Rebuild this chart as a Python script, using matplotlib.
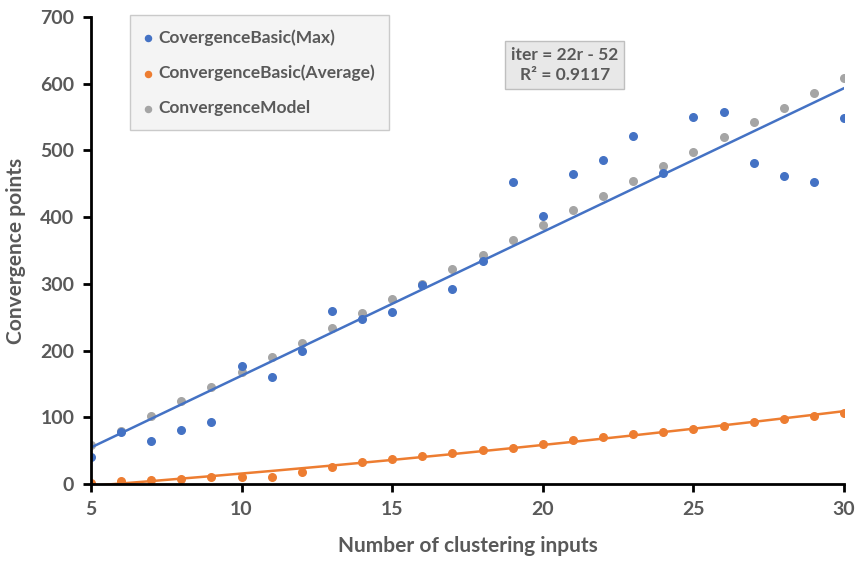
import numpy as np
import matplotlib.pyplot as plt

inputs = list(range(5, 31))
basic_max = [40, 78, 64, 81, 93, 177, 160, 200, 260, 248, 258, 298, 292, 334, 453,
             401, 464, 485, 522, 466, 550, 558, 481, 461, 452, 548]
basic_avg = [2, 5, 6, 8, 10, 10, 11, 18, 26, 33, 37.5, 42, 46.5, 51.5, 54, 60.5,
             65.5, 71, 75, 78.5, 82.5, 87.5, 93, 97.5, 102.5, 107]
model = [58, 80, 102, 124, 146, 168, 190, 212, 234, 256, 278, 300, 322, 344, 366,
         388, 410, 432, 454, 476, 498, 520, 542, 564, 586, 608]

plt.rcParams['font.family'] = ['Lato', 'DejaVu Sans']
plt.rcParams['font.weight'] = 'bold'
plt.rcParams['axes.labelweight'] = 'bold'
txt = '#595959'

fig = plt.figure(figsize=(8.58, 5.63), dpi=100)
ax = fig.add_axes([0.106, 0.1403, 0.8777, 0.8295])

x = np.array(inputs)
ax.scatter(x, basic_max, s=30, color='#4472C4', zorder=3, label='CovergenceBasic(Max)')
ax.scatter(x, basic_avg, s=30, color='#ED7D31', zorder=3, label='ConvergenceBasic(Average)')
ax.scatter(x, model, s=30, color='#A5A5A5', zorder=2, label='ConvergenceModel')

# trend lines
k, b = np.polyfit(x, basic_max, 1)
xs = np.linspace(5, 30, 200)
ax.plot(xs, k * xs + b, color='#4472C4', lw=1.8, zorder=4)
c = np.polyfit(x, basic_avg, 2)
ax.plot(xs, np.polyval(c, xs), color='#ED7D31', lw=1.8, zorder=4)

ax.set_xlim(5, 30)
ax.set_ylim(0, 700)
ax.set_xticks([5, 10, 15, 20, 25, 30])
ax.set_yticks(range(0, 701, 100))
for s in ['top', 'right']:
    ax.spines[s].set_visible(False)
for s in ['left', 'bottom']:
    ax.spines[s].set_linewidth(2)
    ax.spines[s].set_zorder(5)
ax.tick_params(width=2, length=6, labelsize=14, labelcolor=txt, pad=6)
ax.set_xlabel('Number of clustering inputs', fontsize=15, fontweight='bold',
              color=txt, labelpad=13)
ax.set_ylabel('Convergence points', fontsize=15, fontweight='bold',
              color=txt, labelpad=10)

leg = ax.legend(loc='upper left', bbox_to_anchor=(0.052, 1.004), borderaxespad=0,
                fontsize=12.5, frameon=True, fancybox=False, labelspacing=1.1,
                handletextpad=0.35, borderpad=0.8, handlelength=0.5, markerscale=0.8)
leg.get_frame().set_facecolor('#f2f2f2')
leg.get_frame().set_edgecolor('#bfbfbf')
for t in leg.get_texts():
    t.set_color(txt)

ax.text(0.629, 0.898, 'iter = 22r - 52\nR² = 0.9117', transform=ax.transAxes,
        ha='center', va='center', fontsize=12.5, color=txt, linespacing=1.3,
        bbox=dict(boxstyle='square,pad=0.35', fc='#e8e8e8', ec='#bfbfbf'))

fig.savefig('out.png', dpi=100)
